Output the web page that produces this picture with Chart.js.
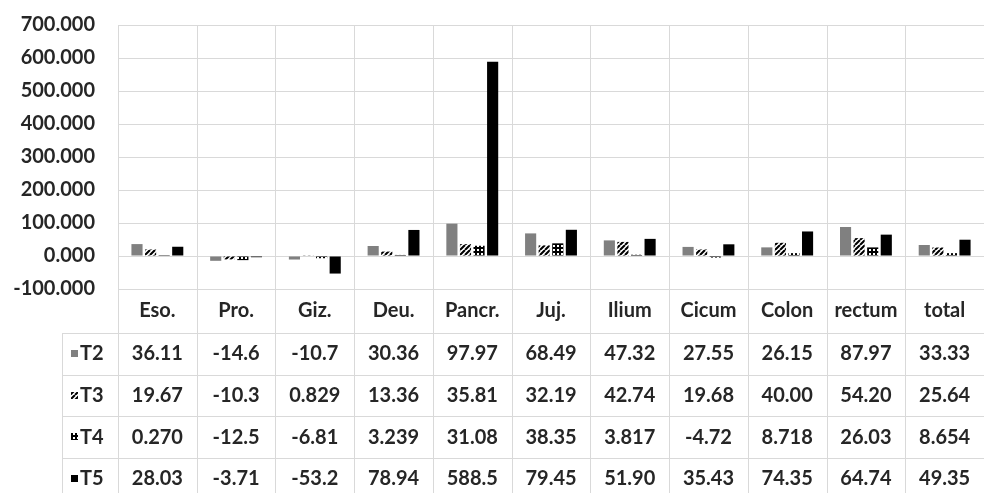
<!DOCTYPE html>
<html><head><meta charset="utf-8">
<script src="https://cdn.jsdelivr.net/npm/chart.js@4/dist/chart.umd.min.js"></script>
<style>html,body{margin:0;padding:0;background:#fff;overflow:hidden}#wrap{width:984px;height:493px;position:relative}</style>
</head><body><div id="wrap"><canvas id="c" width="984" height="493"></canvas></div>
<script>
const categories = ['Eso.','Pro.','Giz.','Deu.','Pancr.','Juj.','Ilium','Cicum','Colon','rectum','total'];
const seriesNames = ['T2','T3','T4','T5'];
const t2 = [36.11,-14.6,-10.7,30.36,97.97,68.49,47.32,27.55,26.15,87.97,33.33];
const t3 = [19.67,-10.3,0.829,13.36,35.81,32.19,42.74,19.68,40.00,54.20,25.64];
const t4 = [0.270,-12.5,-6.81,3.239,31.08,38.35,3.817,-4.72,8.718,26.03,8.654];
const t5 = [28.03,-3.71,-53.2,78.94,588.5,79.45,51.90,35.43,74.35,64.74,49.35];
const yMin = -100, yMax = 700, yStep = 100;

const canvas = document.getElementById('c');
const ctx0 = canvas.getContext('2d');
function makePattern(type){
  const c = document.createElement('canvas');
  const g = c.getContext('2d');
  if(type === 'diag'){
    c.width = c.height = 5;
    g.fillStyle = '#fff'; g.fillRect(0,0,5,5);
    g.strokeStyle = '#000'; g.lineWidth = 2.1;
    g.beginPath();
    for(let k=-5;k<=10;k+=5){ g.moveTo(k,5); g.lineTo(k+5,0); }
    g.stroke();
  } else {
    c.width = c.height = 4;
    g.fillStyle = '#000'; g.fillRect(0,0,4,4);
    g.fillStyle = '#fff'; g.fillRect(1,1,2,2);
  }
  return ctx0.createPattern(c,'repeat');
}
const fills = ['#808080', makePattern('diag'), makePattern('grid'), '#000000'];
const seriesData = [t2,t3,t4,t5];

function fmt(v){
  const neg = v < 0;
  const a = Math.abs(v);
  const d = Math.max(1, Math.floor(a).toString().length);
  const dec = Math.max(0, 5 - (neg?1:0) - d - 1);
  return v.toFixed(dec);
}

const FONT = 'Lato, "Open Sans", sans-serif';
const TEXT = '#262626';
const GRID = '#d9d9d9';
const KEY_LEFT = 62;
const HEADER_H = 44;
const ROW_H = 41.7;

const tablePlugin = {
  id: 'dataTable',
  beforeDatasetsDraw(chart){
    const {ctx, chartArea:a, scales:{x}} = chart;
    const n = categories.length;
    const w = x.getPixelForValue(1) - x.getPixelForValue(0);
    ctx.save();
    ctx.strokeStyle = GRID; ctx.lineWidth = 1;
    ctx.beginPath();
    for(let i=0;i<=n;i++){
      const px = Math.round(x.getPixelForValue(0) - w/2 + i*w) + 0.5;
      ctx.moveTo(px, a.top); ctx.lineTo(px, chart.height);
    }
    const top = a.bottom + HEADER_H;
    for(let r=0;r<seriesNames.length;r++){
      const py = Math.round(top + r*ROW_H) + 0.5;
      ctx.moveTo(KEY_LEFT, py); ctx.lineTo(chart.width, py);
    }
    ctx.moveTo(KEY_LEFT + 0.5, top); ctx.lineTo(KEY_LEFT + 0.5, chart.height);
    ctx.stroke();
    ctx.restore();
  },
  afterDraw(chart){
    const {ctx, chartArea:a, scales:{x}} = chart;
    ctx.save();
    ctx.fillStyle = TEXT;
    ctx.font = 'bold 20px ' + FONT;
    ctx.textAlign = 'center'; ctx.textBaseline = 'middle';
    categories.forEach((c,i)=>{
      ctx.fillText(c, x.getPixelForValue(i), a.bottom + HEADER_H/2);
    });
    const top = a.bottom + HEADER_H;
    seriesNames.forEach((s,r)=>{
      const cy = top + r*ROW_H + ROW_H/2;
      seriesData[r].forEach((v,i)=>{
        ctx.fillStyle = TEXT;
        ctx.textAlign = 'center';
        ctx.fillText(fmt(v), x.getPixelForValue(i), cy);
      });
      ctx.fillStyle = fills[r];
      ctx.fillRect(71, Math.round(cy) - 4, 7, 7);
      ctx.fillStyle = TEXT;
      ctx.textAlign = 'left';
      ctx.fillText(s, 80, cy);
    });
    ctx.restore();
  }
};

new Chart(canvas, {
  type: 'bar',
  data: {
    labels: categories,
    datasets: seriesNames.map((s,k)=>({
      label: s,
      data: seriesData[k],
      backgroundColor: fills[k],
      borderWidth: 0,
      categoryPercentage: 0.69,
      barPercentage: 0.82
    }))
  },
  options: {
    responsive: false,
    devicePixelRatio: 1,
    animation: false,
    layout: { padding: { top: 25, right: 0, bottom: 204, left: 0 } },
    plugins: { legend: { display: false }, tooltip: { enabled: false }, title: { display: false } },
    scales: {
      x: { display: false, offset: true },
      y: {
        min: yMin, max: yMax,
        afterFit(scale){ scale.width = 118; scale.paddingTop = 0; scale.paddingBottom = 0; },
        border: { display: false },
        grid: { color: GRID, lineWidth: 1, drawTicks: false },
        ticks: {
          stepSize: yStep,
          padding: 23,
          color: TEXT,
          font: { family: FONT, size: 20, weight: 'bold' },
          callback: v => Number(v).toFixed(3)
        }
      }
    }
  },
  plugins: [tablePlugin]
});
</script>
</body></html>
